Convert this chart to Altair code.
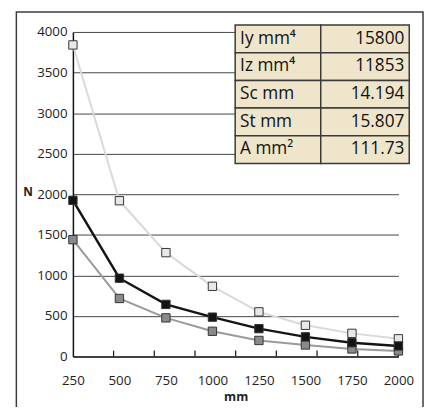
import altair as alt
import pandas as pd

# ---- data ----
x_vals = [250, 500, 750, 1000, 1250, 1500, 1750, 2000]
light_vals = [3840, 1920, 1280, 865, 550, 385, 285, 218]
black_vals = [1925, 965, 642, 485, 343, 242, 170, 130]
gray_vals = [1440, 715, 476, 311, 198, 142, 93, 69]
series_names = ["light", "gray", "black"]
y_ticks = [0, 500, 1000, 1500, 2000, 2500, 3000, 3500, 4000]

table_labels = ["Iy mm⁴", "Iz mm⁴", "Sc mm", "St mm", "A mm²"]
table_values = ["15800", "11853", "14.194", "15.807", "111.73"]

# ---- styling ----
W, H = 331, 330
FONT = "Open Sans"
line_colors = ["#d9d9d9", "#9a9a9a", "#141414"]
fill_colors = ["#e8e8e8", "#8a8a8a", "#141414"]
line_widths = [2.0, 2.0, 2.5]

rows = []
for name, vals in zip(series_names, [light_vals, gray_vals, black_vals]):
    for xv, yv in zip(x_vals, vals):
        rows.append({"series": name, "mm": xv, "N": yv})
df = pd.DataFrame(rows)

x_scale = alt.Scale(domain=[x_vals[0], x_vals[-1]], nice=False, zero=False)
y_scale = alt.Scale(domain=[y_ticks[0], y_ticks[-1]], nice=False)

x_enc = alt.X("mm:Q", scale=x_scale, axis=alt.Axis(
    values=x_vals, format="d", labelOverlap=False, ticks=False, grid=False,
    domainColor="#222", domainWidth=1.5,
    labelFontSize=13.5, labelColor="#222", labelPadding=17, labelFont=FONT,
    labelFlush=False,
    title="mm", titleFontSize=12.5, titleFontWeight="bold", titleFont=FONT,
    titleColor="#222", titleBaseline="middle", titleY=41))
y_enc = alt.Y("N:Q", scale=y_scale, axis=alt.Axis(
    values=y_ticks, format="d", labelOverlap=False, labelFlush=False,
    ticks=False, grid=True, gridColor="#444", gridWidth=1,
    domainColor="#111", domainWidth=1.5, labelFontSize=13.5, labelColor="#222",
    labelPadding=6, labelFont=FONT,
    title="N", titleAngle=0, titleX=-46, titleY=162, titleAlign="center",
    titleBaseline="middle", titleFontSize=12, titleFontWeight="bold",
    titleFont=FONT, titleColor="#222"))

one = pd.DataFrame({"k": [0]})

frame = alt.Chart(one).mark_rect(fill="white", fillOpacity=0, stroke="#3c3c3c",
                                 strokeWidth=1.5).encode(
    x=alt.value(-57.5), x2=alt.value(356), y=alt.value(-20.2), y2=alt.value(420))

lines = []
for name, lc, lw in zip(series_names, line_colors, line_widths):
    lines.append(alt.Chart(df[df.series == name]).mark_line(
        color=lc, strokeWidth=lw).encode(x=x_enc, y=y_enc))

# tick marks dividing the axis into 8 parts
n_div = len(x_vals)
tick_pos = [x_vals[0] + k * (x_vals[-1] - x_vals[0]) / n_div for k in range(1, n_div + 1)]
ticks = alt.Chart(pd.DataFrame({"t": tick_pos})).mark_rule(
    color="#222", strokeWidth=1.3).encode(
    x=alt.X("t:Q", scale=x_scale), y=alt.value(H), y2=alt.value(H - 6))

points = []
for name, fc in zip(series_names, fill_colors):
    points.append(alt.Chart(df[df.series == name]).mark_point(
        shape="square", size=72, filled=True, fill=fc, stroke="#333",
        strokeWidth=1, opacity=1).encode(x=x_enc, y=y_enc))

# table overlay
TX0, TX1, TDIV = 165, 342, 252
TY0, RH = -7, 28.14
tdf = pd.DataFrame({
    "label": table_labels,
    "value": table_values,
    "y0": [TY0 + i * RH for i in range(len(table_labels))],
})
tdf["y1"] = tdf["y0"] + RH
tdf["yb"] = tdf["y0"] + 19
tdf["x0"] = TX0
tdf["x1"] = TX1
tdf["xd"] = TDIV

cells_l = alt.Chart(tdf).mark_rect(fill="#efe5cb", stroke="#3a3a3a", strokeWidth=1.5).encode(
    x=alt.X("x0:Q", scale=None), x2="xd:Q",
    y=alt.Y("y0:Q", scale=None), y2="y1:Q")
cells_r = alt.Chart(tdf).mark_rect(fill="#efe5cb", stroke="#3a3a3a", strokeWidth=1.5).encode(
    x=alt.X("xd:Q", scale=None), x2="x1:Q",
    y=alt.Y("y0:Q", scale=None), y2="y1:Q")
txt_l = alt.Chart(tdf).mark_text(align="left", baseline="alphabetic", fontSize=17.5,
                                 font=FONT, color="#111", dx=5).encode(
    x=alt.X("x0:Q", scale=None), y=alt.Y("yb:Q", scale=None), text="label:N")
txt_r = alt.Chart(tdf).mark_text(align="right", baseline="alphabetic", fontSize=17.5,
                                 font=FONT, color="#111", dx=-5).encode(
    x=alt.X("x1:Q", scale=None), y=alt.Y("yb:Q", scale=None), text="value:N")

chart = alt.layer(frame, *lines, ticks, *points, cells_l, cells_r, txt_l, txt_r).properties(
    width=W, height=H,
    autosize=alt.AutoSizeParams(type="none"),
    padding={"left": 66, "top": 21, "right": 26, "bottom": 48},
    background="white",
).configure_view(stroke=None)

chart.save("out.html", embed_options={"renderer": "svg", "actions": False})
